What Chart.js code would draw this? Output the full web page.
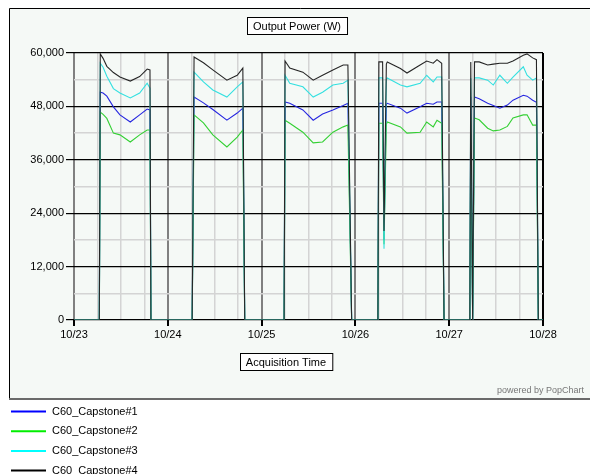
<!DOCTYPE html>
<html>
<head>
<meta charset="utf-8">
<script src="https://cdn.jsdelivr.net/npm/chart.js@4"></script>
<style>
  html, body { margin: 0; padding: 0; background: #fff; }
  #wrap { width: 590px; height: 474px; position: relative; }
</style>
</head>
<body>
<div id="wrap"><canvas id="myChart" width="590" height="474"></canvas></div>
<script>
// acquisition time in days after 10/23 00:00
const times = [
  0, 0.27, 0.28, 0.31, 0.35, 0.42, 0.49, 0.60, 0.70, 0.78, 0.81, 0.82,
  1.26, 1.28, 1.38, 1.48, 1.63, 1.74, 1.80, 1.82,
  2.24, 2.25, 2.30, 2.44, 2.55, 2.65, 2.76, 2.87, 2.92, 2.96,
  3.24, 3.25, 3.29, 3.305, 3.33, 3.34, 3.48, 3.55, 3.69, 3.76, 3.83, 3.87, 3.92, 3.945,
  4.22, 4.23, 4.25, 4.27, 4.32, 4.41, 4.47, 4.54, 4.62, 4.68, 4.79, 4.83, 4.89, 4.93, 4.95, 5.0
]
const dayLabels = ["10/23", "10/24", "10/25", "10/26", "10/27", "10/28"]
const seriesNames = ["C60_Capstone#1", "C60_Capstone#2", "C60_Capstone#3", "C60_Capstone#4"]
const seriesColors = ["#2626e0", "#33d033", "#33e0e0", "#262626"]
const legendColors = ["#0000ff", "#00ee00", "#00ffff", "#000000"]

const capstone1 = [
  0, 0, 51200, 51000, 50300, 47900, 46100, 44500, 46100, 47400, 47200, 0,
  0, 50100, 48800, 47300, 44900, 46500, 47600, 0,
  0, 49000, 48700, 47200, 44900, 46300, 47200, 48200, 48700, 0,
  0, 48700, 48700, 18000, 48500, 48700, 47600, 46500, 47900, 48700, 48500, 49000, 49000, 0,
  0, 50100, 0, 50100, 49700, 48700, 48200, 47600, 48300, 49400, 50500, 50300, 49400, 48900, 0, 0
]
const capstone2 = [
  0, 0, 46700, 46200, 45300, 42000, 41600, 40000, 41600, 42700, 42700, 0,
  0, 46100, 44300, 41600, 38900, 41100, 42700, 0,
  0, 44900, 44200, 42200, 39800, 40000, 42200, 43400, 43800, 0,
  0, 44200, 44200, 17000, 44000, 44500, 43400, 42000, 42200, 44500, 43400, 44900, 44200, 0,
  0, 45400, 0, 45400, 45000, 43100, 42500, 42700, 43500, 45400, 46100, 46100, 43800, 43800, 0, 0
]
const capstone3 = [
  0, 0, 57700, 56800, 54800, 52000, 51000, 49900, 51000, 53200, 52100, 0,
  0, 55700, 53500, 51700, 50100, 52400, 53500, 0,
  0, 55000, 53200, 52400, 50100, 51200, 52800, 53200, 53900, 0,
  0, 54400, 54400, 16000, 54000, 54400, 52800, 52400, 53200, 55000, 53500, 54600, 54600, 0,
  0, 54400, 0, 54400, 54400, 53900, 52800, 55000, 53200, 54600, 56900, 55000, 53900, 54400, 0, 0
]
const capstone4 = [
  0, 0, 59800, 58800, 57000, 55600, 54600, 53700, 54700, 56400, 56200, 0,
  0, 59100, 57800, 56200, 53900, 55000, 56600, 0,
  0, 58200, 56600, 55700, 53900, 55000, 56200, 57300, 57300, 0,
  0, 58000, 58000, 20000, 57500, 58000, 56500, 55500, 57300, 58200, 57700, 58500, 57700, 0,
  0, 58000, 0, 58000, 58000, 57300, 57500, 57700, 57700, 58200, 59500, 59800, 58900, 58500, 0, 0
]

const allSeries = [capstone1, capstone2, capstone3, capstone4]
const font = "Liberation Sans, Arial, sans-serif"

const datasets = allSeries.map((vals, i) => ({
  label: seriesNames[i],
  data: times.map((t, k) => ({ x: t, y: vals[k] })),
  borderColor: seriesColors[i],
  borderWidth: 1.1,
  pointRadius: 0,
  fill: false,
  tension: 0,
  order: 4 - i
}))

function boxedText(c, text, cx, cy) {
  c.font = "11px " + font
  const w = c.measureText(text).width + 12
  c.fillStyle = "#fff"
  c.fillRect(Math.round(cx - w / 2) + 0.5, cy - 8.5, w, 17)
  c.strokeStyle = "#000"
  c.lineWidth = 1
  c.strokeRect(Math.round(cx - w / 2) + 0.5, cy - 8.5, w, 17)
  c.fillStyle = "#000"
  c.textAlign = "center"
  c.textBaseline = "middle"
  c.fillText(text, cx, cy + 0.5)
}

const framePlugin = {
  id: "frame",
  beforeDraw(chart) {
    const c = chart.ctx
    c.save()
    c.fillStyle = "#fff"
    c.fillRect(0, 0, 590, 474)
    c.fillStyle = "#f5f9f6"
    c.fillRect(9, 8, 600, 391)
    c.strokeStyle = "#000"
    c.lineWidth = 1
    c.beginPath()
    c.moveTo(9.5, 398); c.lineTo(9.5, 8.5); c.lineTo(600, 8.5)
    c.stroke()
    c.strokeStyle = "#6a6a6a"
    c.lineWidth = 2
    c.beginPath()
    c.moveTo(9, 399); c.lineTo(600, 399)
    c.stroke()
    c.restore()
  },
  afterDraw(chart) {
    const c = chart.ctx
    c.save()
    boxedText(c, "Output Power (W)", 297, 26)
    boxedText(c, "Acquisition Time", 286, 362)
    c.font = "9px " + font
    c.fillStyle = "#777"
    c.textAlign = "left"
    c.textBaseline = "middle"
    c.fillText("powered by PopChart", 497, 391)
    // legend
    c.font = "11px " + font
    c.fillStyle = "#000"
    seriesNames.forEach((name, i) => {
      const y = 411.5 + i * 19.7
      c.strokeStyle = legendColors[i]
      c.lineWidth = 2
      c.beginPath()
      c.moveTo(11, y); c.lineTo(46, y)
      c.stroke()
      c.fillText(name, 52, y)
    })
    c.restore()
  }
}

const ctx = document.getElementById("myChart")
const chart = new Chart(ctx, {
  type: "line",
  data: { datasets: datasets },
  plugins: [framePlugin],
  options: {
    responsive: false,
    animation: false,
    layout: { padding: { left: 0, right: 47, top: 53, bottom: 0 } },
    plugins: { legend: { display: false }, tooltip: { enabled: false } },
    scales: {
      x: {
        type: "linear",
        min: 0,
        max: 5,
        afterFit(axis) { axis.height = 154 },
        border: { display: false },
        grid: {
          color: (c) => {
            const v = c.tick.value
            if (Math.abs(v - 5) < 1e-6) return "#000"
            return Number.isInteger(v) ? "#808080" : "#d4d4d4"
          },
          lineWidth: (c) => Number.isInteger(c.tick.value) ? 2 : 1.5,
          tickColor: (c) => Number.isInteger(c.tick.value) ? "#000" : "rgba(0,0,0,0)",
          tickLength: 6
        },
        ticks: {
          stepSize: 0.25,
          autoSkip: false,
          maxRotation: 0,
          padding: 2,
          color: "#000",
          font: { family: font, size: 11 },
          callback: (v) => Number.isInteger(v) ? dayLabels[v] : ""
        }
      },
      y: {
        min: 0,
        max: 60000,
        afterFit(axis) { axis.width = 74 },
        border: { display: false },
        grid: {
          color: (c) => c.tick.value % 12000 === 0 ? "#000" : "#d4d4d4",
          lineWidth: (c) => c.tick.value % 12000 === 0 ? 1.2 : 1.5,
          tickColor: (c) => c.tick.value % 12000 === 0 ? "#000" : "rgba(0,0,0,0)",
          tickLength: 8
        },
        ticks: {
          stepSize: 6000,
          autoSkip: false,
          padding: 2,
          color: "#000",
          font: { family: font, size: 11 },
          callback: (v) => v % 12000 === 0 ? v.toLocaleString("en-US") : ""
        }
      }
    }
  }
})
</script>
</body>
</html>
